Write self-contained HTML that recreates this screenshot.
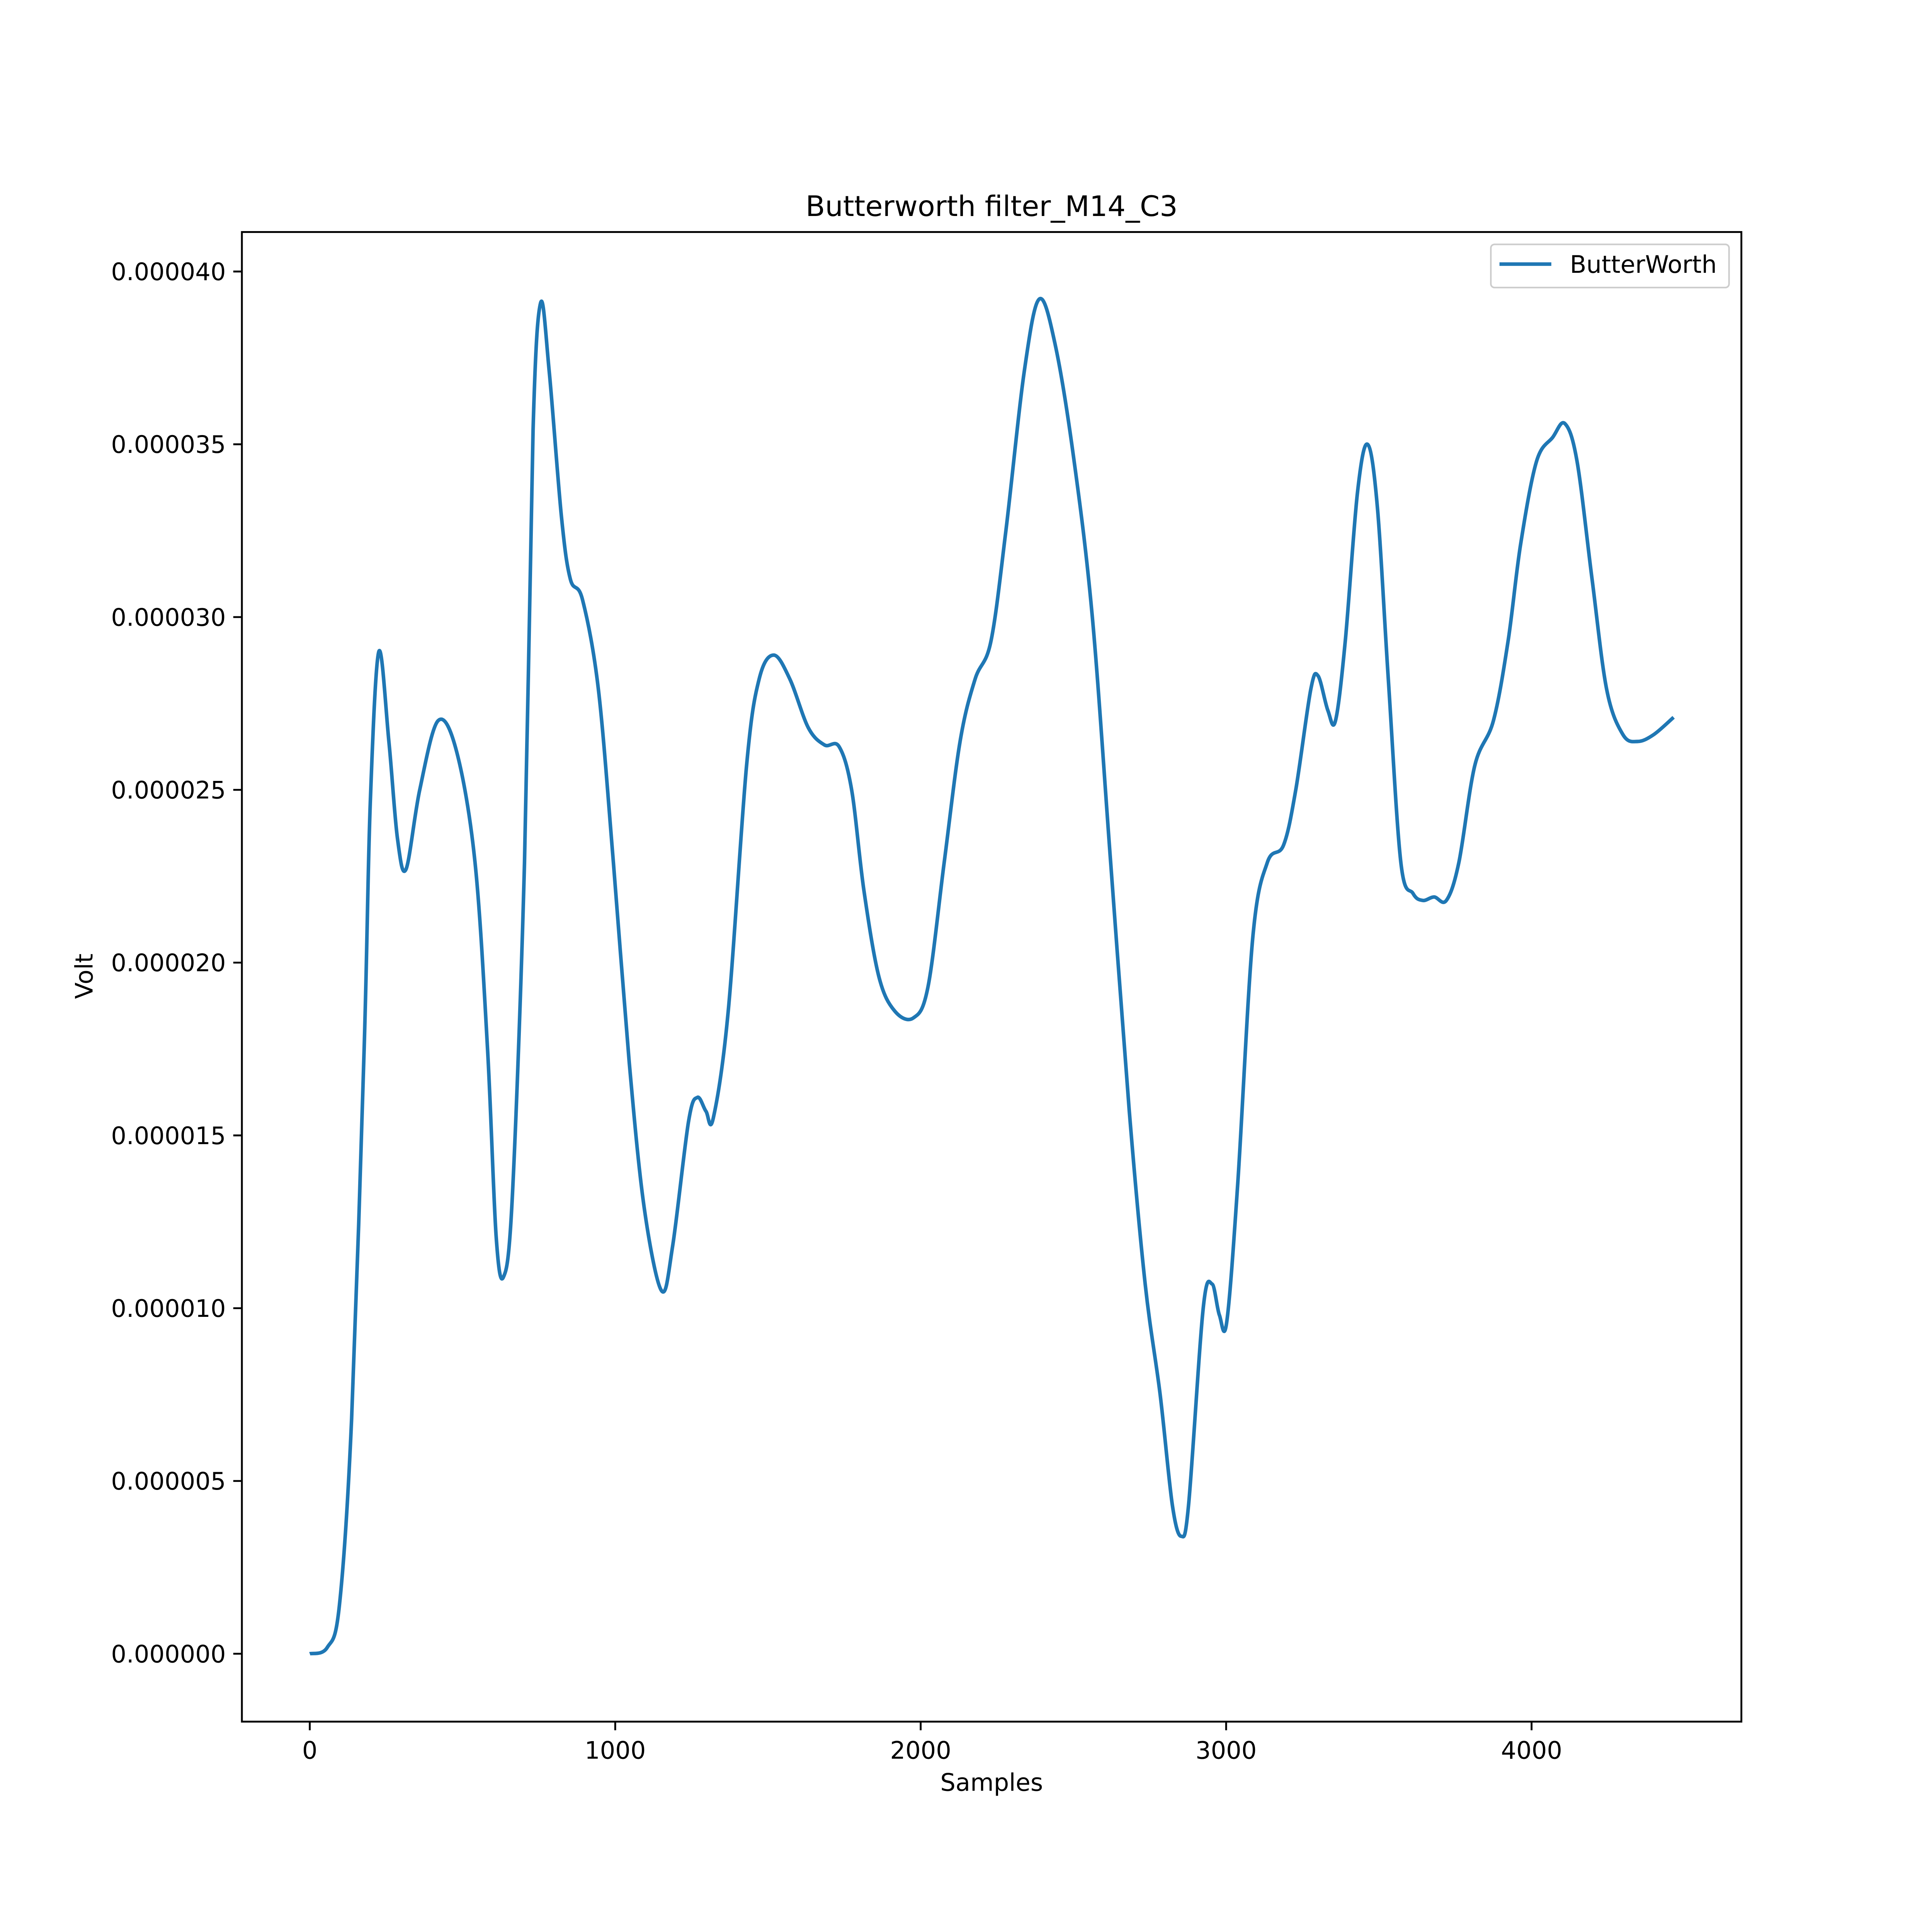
<!DOCTYPE html>
<html><head><meta charset="utf-8"><style>
html,body{margin:0;padding:0;background:#fff;overflow:hidden;}
svg{display:block;}
text{font-family:"DejaVu Sans","Liberation Sans",sans-serif;fill:#000;}
</style></head><body>
<svg id="chart" width="5500" height="5500" viewBox="0 0 1722 1722" xmlns="http://www.w3.org/2000/svg">
<rect x="0" y="0" width="1722" height="1722" fill="#fff"/>
<text x="803.5" y="175" font-size="23" text-anchor="middle">Butterworth filter_M14_C3</text>
<g id="plot"></g>
<rect x="196" y="188" width="1215" height="1207" fill="none" stroke="#000" stroke-width="1.5"/>
<text x="803.5" y="1451" font-size="19.5" text-anchor="middle">Samples</text>
<text x="75" y="791" font-size="19.5" text-anchor="middle" transform="rotate(-90 75 791)">Volt</text>
<g>
<rect x="1208" y="198" width="193" height="35" rx="3" fill="#fff" stroke="#ccc" stroke-width="1.3"/>
<line x1="1215" y1="214" x2="1257" y2="214" stroke="#1f77b4" stroke-width="2.9"/>
<text x="1272" y="221" font-size="19.5">ButterWorth</text>
</g>
</svg>
<script>
const xTicks = [0, 1000, 2000, 3000, 4000];
const yTicks = [0, 5, 10, 15, 20, 25, 30, 35, 40];
const yTickLabels = ["0.000000","0.000005","0.000010","0.000015","0.000020","0.000025","0.000030","0.000035","0.000040"];
const sampleX = [0,57,97,137,178,198,226,259,287,315,360,420,481,541,582,610,634,663,703,731,756,784,824,853,893,945,994,1046,1095,1152,1188,1240,1269,1297,1321,1370,1430,1471,1519,1572,1632,1685,1733,1774,1814,1863,1915,1976,2024,2077,2129,2178,2230,2279,2339,2388,2440,2501,2562,2622,2683,2735,2784,2824,2853,2877,2925,2954,2978,3002,3038,3087,3135,3188,3228,3277,3301,3333,3358,3390,3430,3463,3495,3531,3572,3612,3644,3681,3721,3762,3814,3875,3923,3964,4016,4069,4109,4149,4198,4246,4299,4347,4400,4465];
const voltMicro = [0,0.18,1.4,6.8,17.5,24.6,29,26.4,23.6,22.7,25,27,26.1,22.9,17.5,12.1,10.9,13.2,22.9,35.4,39.1,37.1,32.9,31.1,30.5,27.9,22.9,17.1,12.9,10.5,11.8,15.4,16.1,15.7,15.5,18.6,25.7,28.2,28.9,28.2,26.8,26.3,26.25,25,22.1,19.6,18.6,18.4,19.3,22.9,26.4,28.2,29.3,32.5,37.1,39.2,37.9,34.6,30,22.9,15.7,10.7,7.5,4.3,3.4,4.3,10,10.7,9.8,9.6,13.6,20.7,22.9,23.4,25,27.9,28.3,27.3,27,29.3,33.6,35,33.2,28.2,22.9,22,21.8,21.9,21.8,22.9,25.7,27,29.3,32.1,34.5,35.2,35.6,34.5,31.1,27.9,26.6,26.4,26.6,27.1];

const xs = v => 251 + v * 0.2475;
const ys = v => 1340 - v * 28;
const NS = "http://www.w3.org/2000/svg";
const svg = document.getElementById('chart');
const plot = document.getElementById('plot');

xTicks.forEach(t => {
  const l = document.createElementNS(NS, 'line');
  
  
  l.setAttribute('x1', xs(t)); l.setAttribute('x2', xs(t));
  l.setAttribute('y1', 1395); l.setAttribute('y2', 1402);
  l.setAttribute('stroke', '#000'); l.setAttribute('stroke-width', '1.5');
  svg.appendChild(l);
  const tx = document.createElementNS(NS, 'text');
  
  
  tx.setAttribute('x', xs(t)); tx.setAttribute('y', 1425);
  tx.setAttribute('font-size', '19.5'); tx.setAttribute('text-anchor', 'middle');
  tx.textContent = String(t);
  svg.appendChild(tx);
});
yTicks.forEach((t, i) => {
  const l = document.createElementNS(NS, 'line');
  
  
  l.setAttribute('x1', 189); l.setAttribute('x2', 196);
  l.setAttribute('y1', ys(t)); l.setAttribute('y2', ys(t));
  l.setAttribute('stroke', '#000'); l.setAttribute('stroke-width', '1.5');
  svg.appendChild(l);
  const tx = document.createElementNS(NS, 'text');
  
  
  tx.setAttribute('x', 183); tx.setAttribute('y', ys(t) + 7);
  tx.setAttribute('font-size', '19.5'); tx.setAttribute('text-anchor', 'end');
  tx.textContent = yTickLabels[i];
  svg.appendChild(tx);
});

const P = sampleX.map((x, i) => [xs(x), ys(voltMicro[i])]);
let d = 'M' + P[0][0] + ',' + P[0][1];
for (let i = 0; i < P.length - 1; i++) {
  const p0 = P[Math.max(0, i - 1)], p1 = P[i], p2 = P[i + 1], p3 = P[Math.min(P.length - 1, i + 2)];
  const k = 1 / 6;
  const c1 = [p1[0] + (p2[0] - p0[0]) * k, p1[1] + (p2[1] - p0[1]) * k];
  const c2 = [p2[0] - (p3[0] - p1[0]) * k, p2[1] - (p3[1] - p1[1]) * k];
  d += ' C' + c1.join(',') + ' ' + c2.join(',') + ' ' + p2.join(',');
}
const path = document.createElementNS(NS, 'path');


path.setAttribute('d', d);
path.setAttribute('fill', 'none');
path.setAttribute('stroke', '#1f77b4');
path.setAttribute('stroke-width', '2.9');
path.setAttribute('stroke-linejoin', 'round');
plot.appendChild(path);
</script>
</body></html>
